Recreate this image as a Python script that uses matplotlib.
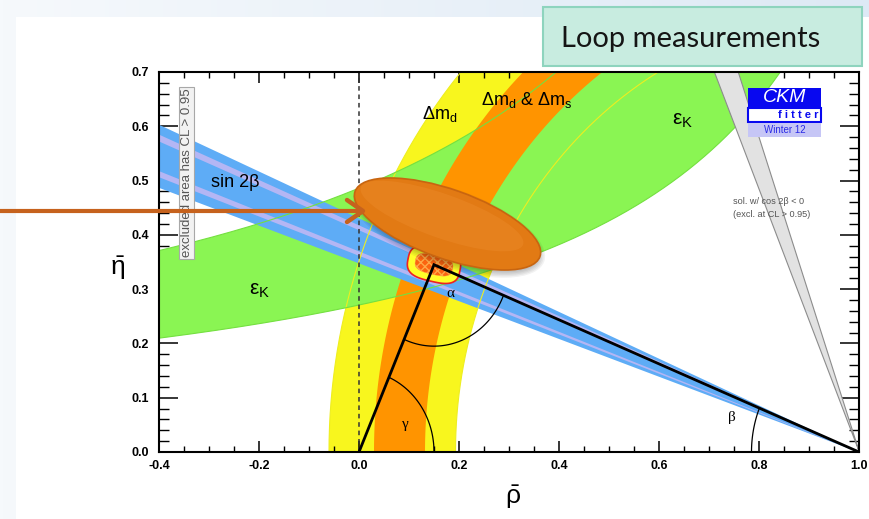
import numpy as np
import matplotlib
matplotlib.use('Agg')
import matplotlib.pyplot as plt
from matplotlib.patches import Rectangle, Ellipse, Polygon
from matplotlib.ticker import MultipleLocator, FormatStrFormatter

plt.rcParams['font.family'] = ['Liberation Sans', 'DejaVu Sans']
plt.rcParams['mathtext.default'] = 'regular'
plt.rcParams['axes.unicode_minus'] = False

# ---------------- data ----------------
rho_lim = [-0.4, 1.0]
eta_lim = [0.0, 0.7]
apex = [0.15, 0.345]                 # (rho_bar, eta_bar) of triangle apex
dmd_radii = [0.807, 1.06]            # Delta m_d band, radii around (1,0)
dmds_radii = [0.868, 0.97]           # Delta m_d & Delta m_s band
epsK_low = [1.374, 0.372]            # eta = k / (a - rho)   (a, k)
epsK_high = [1.29, 0.627]
sin2b_outer = [0.348, 0.431]         # slopes eta/(1-rho)
sin2b_strip1 = [0.362, 0.370]
sin2b_strip2 = [0.409, 0.418]
cos2b_wedge = [0.346, 0.414]         # (1-rho)/eta of the excluded solution
alpha_r = 0.15
gamma_r = 0.15
beta_r = 0.215
blob_outer = [0.106, 0.062]
blob_inner = [0.076, 0.036]
x_major, x_minor = 0.2, 0.05
y_major, y_minor = 0.1, 0.02

# colours
c_yellow = '#f8f61e'
c_orange = '#ff9400'
c_green = '#8af553'
c_blue = '#5eacf6'
c_lav = '#b4b6f4'

W, H = 870, 519
fig = plt.figure(figsize=(W / 100, H / 100), dpi=100)

# ---------------- slide background ----------------
bg = fig.add_axes([0, 0, 1, 1], zorder=0)
bg.set_axis_off()
grad = np.linspace(0, 1, 256)[None, :]
cmap = matplotlib.colors.LinearSegmentedColormap.from_list('bgc', ['#f6f9fc', '#dde9f5'])
bg.imshow(grad, extent=[0, 1, 0, 1], aspect='auto', cmap=cmap, transform=bg.transAxes)
bg.add_patch(Rectangle((16 / W, 0), 1, (H - 17) / H, transform=bg.transAxes,
                       fc='white', ec='none'))
bg.set_xlim(0, 1); bg.set_ylim(0, 1)

# ---------------- main plot ----------------
L, R, T, B = 159, 859, 72, 452
ax = fig.add_axes([L / W, (H - B) / H, (R - L) / W, (B - T) / H], zorder=2)
ax.set_xlim(rho_lim)
ax.set_ylim(eta_lim)
ax.set_facecolor('none')

t = np.linspace(0, np.pi / 2, 500)


def annulus(r_in, r_out):
    xo = 1 - r_out * np.cos(t)
    yo = r_out * np.sin(t)
    xi = 1 - r_in * np.cos(t[::-1])
    yi = r_in * np.sin(t[::-1])
    return np.column_stack([np.r_[xo, xi], np.r_[yo, yi]])


# Delta m_d (yellow)
ax.add_patch(Polygon(annulus(*dmd_radii), closed=True, fc=c_yellow, ec='none', zorder=1))

# epsilon_K (green)
xs = np.linspace(-0.45, 1.0, 800)
lo = epsK_low[1] / (epsK_low[0] - xs)
hi = epsK_high[1] / (epsK_high[0] - xs)
ax.fill_between(xs, lo, hi, color=c_green, lw=0, zorder=2)

# Delta m_d & Delta m_s (orange)
ax.add_patch(Polygon(annulus(*dmds_radii), closed=True, fc=c_orange, ec='none', zorder=3))

# sin 2beta (blue)
ax.fill_between(xs, sin2b_outer[0] * (1 - xs), sin2b_outer[1] * (1 - xs), color=c_blue, lw=0, zorder=4)
for s in (sin2b_strip1, sin2b_strip2):
    ax.fill_between(xs, s[0] * (1 - xs), s[1] * (1 - xs), color=c_lav, lw=0, zorder=4.1)

# thin contour lines
for r in dmd_radii:
    ax.plot(1 - r * np.cos(t), r * np.sin(t), color='#eeee20', lw=0.8, zorder=5)
ax.plot(xs, lo, color='#74e040', lw=0.8, zorder=5)
ax.plot(xs, hi, color='#74e040', lw=0.8, zorder=5)

# excluded cos2beta<0 solution (grey wedge)
ys = np.linspace(0, 0.75, 100)
ax.fill_betweenx(ys, 1 - cos2b_wedge[1] * ys, 1 - cos2b_wedge[0] * ys,
                 fc='#e2e2e2', ec='#8c8c8c', lw=0.8, zorder=5.5)

# dashed rho=0 line
ax.axvline(0.0, color='#333333', lw=1.1, ls=(0, (3, 2.5)), zorder=5.6)

# CL blob around apex (superellipse)
ph = np.linspace(0, 2 * np.pi, 200)


def superell(w, h, n=3.0, ang=-12):
    cx, cy = apex
    c, s = np.cos(ph), np.sin(ph)
    px = (w / 2) * np.sign(c) * np.abs(c) ** (2 / n)
    py = (h / 2) * np.sign(s) * np.abs(s) ** (2 / n)
    a = np.deg2rad(ang)
    return np.column_stack([cx + px * np.cos(a) - py * np.sin(a),
                            cy + px * np.sin(a) + py * np.cos(a)])


ax.add_patch(Polygon(superell(*blob_outer), closed=True, fc='#ffff2a', ec='#ee2222', lw=1.2, zorder=6))
ax.add_patch(Polygon(superell(*blob_inner), closed=True, fc='#fb6410', ec='#ffa848', lw=0.3,
                     hatch='xxxx', zorder=6.1))

# unitarity triangle
ax.plot([0, apex[0], 1], [0, apex[1], 0], color='black', lw=2.0, zorder=7, solid_joinstyle='miter')

# angle arcs
ang_o = np.arctan2(-apex[1], -apex[0])
ang_r = np.arctan2(-apex[1], 1 - apex[0])
th = np.linspace(ang_o, ang_r, 100)
ax.plot(apex[0] + alpha_r * np.cos(th), apex[1] + alpha_r * np.sin(th), color='black', lw=0.9, zorder=7)
th = np.linspace(0, np.arctan2(apex[1], apex[0]), 100)
ax.plot(gamma_r * np.cos(th), gamma_r * np.sin(th), color='black', lw=0.9, zorder=7)
th = np.linspace(np.pi - np.arctan2(apex[1], 1 - apex[0]), np.pi, 100)
ax.plot(1 + beta_r * np.cos(th), beta_r * np.sin(th), color='black', lw=0.9, zorder=7)

# labels inside plot
ax.text(0.182, 0.292, 'α', family='Liberation Serif', fontsize=11, ha='center', va='center', zorder=8)
ax.text(0.093, 0.050, 'γ', family='Liberation Serif', fontsize=11, ha='center', va='center', zorder=8)
ax.text(0.745, 0.063, 'β', family='Liberation Serif', fontsize=11, ha='center', va='center', zorder=8)
ax.text(-0.248, 0.497, 'sin 2β', fontsize=13, ha='center', va='center', zorder=8)
ax.text(-0.198, 0.297, r'$\varepsilon_K$', fontsize=15, ha='center', va='center', zorder=8)
ax.text(0.648, 0.610, r'$\varepsilon_K$', fontsize=15, ha='center', va='center', zorder=8)
ax.text(0.162, 0.622, r'$\Delta m_d$', fontsize=13, ha='center', va='center', zorder=8)
ax.text(0.336, 0.648, r'$\Delta m_d$ & $\Delta m_s$', fontsize=13, ha='center', va='center', zorder=8)

ax.text(0.0393, 0.735, 'excluded area has CL > 0.95', transform=ax.transAxes, rotation=90,
        fontsize=9.5, color='#555555', ha='center', va='center', zorder=8,
        fontstretch='condensed',
        bbox=dict(boxstyle='square,pad=0.12', fc='#f2f2f2', ec='#a8a8a8', lw=0.8))
ax.text(0.820, 0.642, 'sol. w/ cos 2β < 0\n(excl. at CL > 0.95)', transform=ax.transAxes,
        fontsize=6.6, color='#555555', ha='left', va='center', linespacing=1.45, zorder=8)

# CKMfitter logo
lx0, lx1 = 0.8414, 0.9457
ax.add_patch(Rectangle((lx0, 0.908), lx1 - lx0, 0.050, transform=ax.transAxes, fc='#0808f0', ec='none', zorder=9))
ax.text((lx0 + lx1) / 2, 0.933, 'CKM', transform=ax.transAxes, color='white', fontsize=14,
        style='italic', ha='center', va='center', zorder=10)
ax.add_patch(Rectangle((lx0, 0.868), lx1 - lx0, 0.037, transform=ax.transAxes, fc='white',
                       ec='#0808f0', lw=1.5, zorder=9))
ax.text(lx1 - 0.004, 0.886, 'f i t t e r', transform=ax.transAxes, color='#0808f0', fontsize=8,
        weight='bold', ha='right', va='center', zorder=10)
ax.add_patch(Rectangle((lx0, 0.829), lx1 - lx0, 0.037, transform=ax.transAxes, fc='#c6c6f6',
                       ec='none', zorder=9))
ax.text((lx0 + lx1) / 2, 0.847, 'Winter 12', transform=ax.transAxes, color='#2a2ae6', fontsize=7,
        ha='center', va='center', zorder=10)

# axes styling
for sp in ax.spines.values():
    sp.set_linewidth(1.5)
    sp.set_zorder(11)
ax.xaxis.set_major_locator(MultipleLocator(x_major))
ax.xaxis.set_minor_locator(MultipleLocator(x_minor))
ax.yaxis.set_major_locator(MultipleLocator(y_major))
ax.yaxis.set_minor_locator(MultipleLocator(y_minor))
ax.xaxis.set_major_formatter(FormatStrFormatter('%.1f'))
ax.yaxis.set_major_formatter(FormatStrFormatter('%.1f'))
ax.tick_params(axis='x', which='major', direction='in', length=8, width=1.1, top=True, pad=6)
ax.tick_params(axis='x', which='minor', direction='in', length=4, width=1.0, top=True)
ax.tick_params(axis='y', which='major', direction='in', length=14, width=1.1, right=True, pad=7)
ax.tick_params(axis='y', which='minor', direction='in', length=7, width=1.0, right=True)
for lab in ax.get_xticklabels() + ax.get_yticklabels():
    lab.set_fontsize(9)
    lab.set_fontweight('bold')
    lab.set_fontstretch('condensed')

fig.text(513 / W, 1 - 497 / H, r'$\bar{\rho}$', fontsize=19, ha='center', va='center')
fig.text(118 / W, 1 - 268 / H, r'$\bar{\eta}$', fontsize=19, ha='center', va='center')

# ---------------- slide overlay (pixel coords) ----------------
ov = fig.add_axes([0, 0, 1, 1], zorder=5)
ov.set_xlim(0, W)
ov.set_ylim(H, 0)
ov.set_axis_off()
ov.patch.set_alpha(0)

# highlight ellipse with soft shadow
for k in range(5):
    ov.add_patch(Ellipse((449, 228), 190 + 3 * k, 66 + 3 * k, angle=19.4, fc='#000000',
                         alpha=0.05, ec='none'))
ov.add_patch(Ellipse((447.5, 224), 196, 69, angle=19.4, fc='#e27a14', ec='#c86510', lw=1.2))
ov.add_patch(Ellipse((442, 216), 172, 44, angle=19.4, fc='#ec8a2a', ec='none', alpha=0.45))

# arrow
ov.plot([0, 362], [211, 211], color='#c6621d', lw=3, solid_capstyle='butt')
ov.plot([347, 363, 347], [200, 211, 222], color='#c6621d', lw=3.2, solid_capstyle='round',
        solid_joinstyle='round')

# "Loop measurements" box
ov.add_patch(Rectangle((543, 7), 319, 59, fc='#c8ece0', ec='#8ed4be', lw=1.5))
ov.text(561, 39, 'Loop measurements', fontsize=21, family=['Lato', 'DejaVu Sans'],
        color='#151515', ha='left', va='center')

fig.savefig('out.png', dpi=100)
